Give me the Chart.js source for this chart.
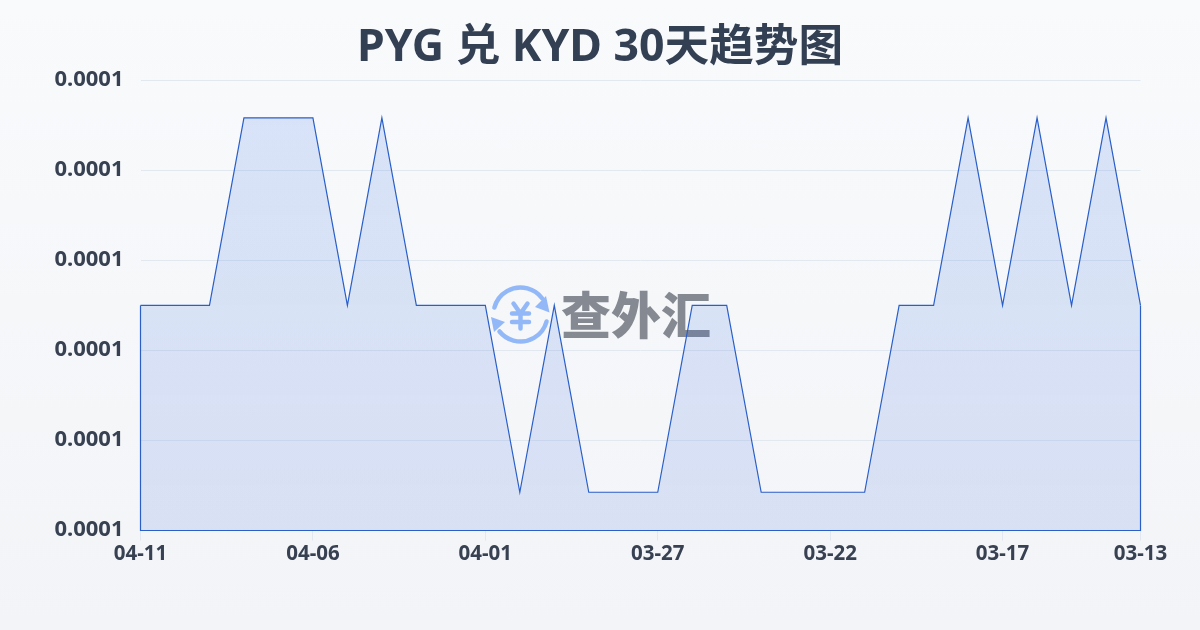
<!DOCTYPE html>
<html>
<head>
<meta charset="utf-8">
<title>PYG 兑 KYD 30天趋势图</title>
<script src="https://cdn.jsdelivr.net/npm/chart.js@4/dist/chart.umd.min.js"></script>
<style>
    html, body { margin: 0; padding: 0; }
    body { width: 1200px; height: 630px; overflow: hidden; background: linear-gradient(180deg, #f8fafc 0%, #f2f4f7 100%); }
    canvas { display: block; }
</style>
</head>
<body>
<canvas id="trend" width="1200" height="630"></canvas>
<script>
const chart_title = 'PYG 兑 KYD 30天趋势图';
const watermark_text = '查外汇';

const dates = [
    '04-11', '04-10', '04-09', '04-08', '04-07', '04-06', '04-05', '04-04', '04-03', '04-02',
    '04-01', '03-31', '03-30', '03-29', '03-28', '03-27', '03-26', '03-25', '03-24', '03-23',
    '03-22', '03-21', '03-20', '03-19', '03-18', '03-17', '03-16', '03-15', '03-14', '03-13'
];
const rates = [
    0.000125, 0.000125, 0.000125, 0.0001375, 0.0001375, 0.0001375, 0.000125, 0.0001375, 0.000125, 0.000125,
    0.000125, 0.00011255, 0.000125, 0.00011255, 0.00011255, 0.00011255, 0.000125, 0.000125, 0.00011255, 0.00011255,
    0.00011255, 0.00011255, 0.000125, 0.000125, 0.0001375, 0.000125, 0.0001375, 0.000125, 0.0001375, 0.000125
];
const shown_dates = ['04-11', '04-06', '04-01', '03-27', '03-22', '03-17', '03-13'];
const y_ticks = [0.00011, 0.000116, 0.000122, 0.000128, 0.000134, 0.00014];

const LINE_COLOR = '#2a5fc9';
const TEXT_COLOR = '#374151';
const GRID_COLOR = '#e2e8f0';
const FONT_FAMILY = '"Noto Sans", "Noto Sans CJK SC", sans-serif';

// 面積の左右と下辺も線で囲む
const areaOutlinePlugin = {
    id: 'areaOutline',
    afterDatasetsDraw: (chart) => {
        const points = chart.getDatasetMeta(0).data;
        const first = points[0];
        const last = points[points.length - 1];
        const bottom = chart.scales.y.bottom;
        const ctx = chart.ctx;
        ctx.save();
        ctx.strokeStyle = LINE_COLOR;
        ctx.lineWidth = 1.2;
        ctx.beginPath();
        ctx.moveTo(first.x, first.y);
        ctx.lineTo(first.x, bottom);
        ctx.lineTo(last.x, bottom);
        ctx.lineTo(last.x, last.y);
        ctx.stroke();
        ctx.restore();
    }
};

// 中央のロゴ
const watermarkPlugin = {
    id: 'watermark',
    beforeDatasetsDraw: (chart) => {
        const ctx = chart.ctx;
        const cx = 520.5;
        const cy = 314.5;
        const r = 27;
        const deg = Math.PI / 180;
        ctx.save();
        ctx.strokeStyle = '#93b8f8';
        ctx.fillStyle = '#93b8f8';
        ctx.lineWidth = 4.5;
        ctx.lineCap = 'round';
        ctx.beginPath();
        ctx.arc(cx, cy, r, 195 * deg, 323 * deg);
        ctx.stroke();
        ctx.beginPath();
        ctx.arc(cx, cy, r, 15 * deg, 141 * deg);
        ctx.stroke();
        ctx.beginPath();
        ctx.moveTo(549.5, 312.5);
        ctx.lineTo(546, 296);
        ctx.lineTo(535, 307);
        ctx.closePath();
        ctx.fill();
        ctx.beginPath();
        ctx.moveTo(491, 317);
        ctx.lineTo(494, 332);
        ctx.lineTo(505, 322);
        ctx.closePath();
        ctx.fill();
        ctx.lineWidth = 4.5;
        ctx.beginPath();
        ctx.moveTo(cx - 7, cy - 11);
        ctx.lineTo(cx, cy - 1);
        ctx.lineTo(cx + 7, cy - 11);
        ctx.moveTo(cx - 8.5, cy - 1);
        ctx.lineTo(cx + 8.5, cy - 1);
        ctx.moveTo(cx - 8.5, cy + 7.5);
        ctx.lineTo(cx + 8.5, cy + 7.5);
        ctx.moveTo(cx, cy - 1);
        ctx.lineTo(cx, cy + 14);
        ctx.stroke();
        ctx.fillStyle = 'rgba(72, 78, 90, 0.65)';
        ctx.font = `900 50px "Noto Sans CJK SC", sans-serif`;
        ctx.textAlign = 'left';
        ctx.textBaseline = 'middle';
        ctx.fillText(watermark_text, 561, 315);
        ctx.restore();
    }
};

const ctx = document.getElementById('trend').getContext('2d');
const fill_gradient = ctx.createLinearGradient(0, 80, 0, 530);
fill_gradient.addColorStop(0, 'rgba(37, 99, 235, 0.15)');
fill_gradient.addColorStop(1, 'rgba(42, 90, 216, 0.13)');

new Chart(ctx, {
    type: 'line',
    data: {
        labels: dates,
        datasets: [{
            data: rates,
            yAxisID: 'y',
            borderColor: LINE_COLOR,
            borderWidth: 1.2,
            backgroundColor: fill_gradient,
            fill: 'start',
            tension: 0,
            pointRadius: 0
        }]
    },
    plugins: [watermarkPlugin, areaOutlinePlugin],
    options: {
        responsive: false,
        animation: false,
        plugins: {
            legend: { display: false },
            tooltip: { enabled: false },
            title: {
                display: true,
                text: chart_title,
                color: '#333f52',
                font: { family: FONT_FAMILY, size: 44.6, weight: 'bold', lineHeight: 1.2 },
                padding: { top: 21.5, bottom: 5.3 }
            }
        },
        scales: {
            x: {
                offset: false,
                grid: { drawOnChartArea: false, drawTicks: true, tickLength: 10, color: GRID_COLOR },
                border: { display: false },
                ticks: {
                    color: TEXT_COLOR,
                    font: { family: FONT_FAMILY, size: 20.5, weight: 'bold' },
                    autoSkip: false,
                    maxRotation: 0,
                    padding: 1
                },
                afterBuildTicks: (scale) => {
                    scale.ticks = scale.ticks.filter((t) => shown_dates.includes(dates[t.value]));
                },
                afterFit: (scale) => { scale.height = 99.5; }
            },
            y: {
                min: y_ticks[0],
                max: y_ticks[y_ticks.length - 1],
                grid: { color: GRID_COLOR, drawTicks: false },
                border: { display: false },
                ticks: {
                    color: TEXT_COLOR,
                    font: { family: FONT_FAMILY, size: 22, weight: 'bold' },
                    padding: 17,
                    labelOffset: -1,
                    callback: (value) => value.toFixed(4)
                },
                afterBuildTicks: (scale) => {
                    scale.ticks = y_ticks.map((value) => ({ value }));
                },
                afterFit: (scale) => { scale.width = 140.5; }
            },
            // 右側の余白用（タイトルを中央に保つため）
            spacer: {
                position: 'right',
                grid: { display: false },
                border: { display: false },
                ticks: { display: false },
                afterFit: (scale) => { scale.width = 59.5; }
            }
        }
    }
});
</script>
</body>
</html>
